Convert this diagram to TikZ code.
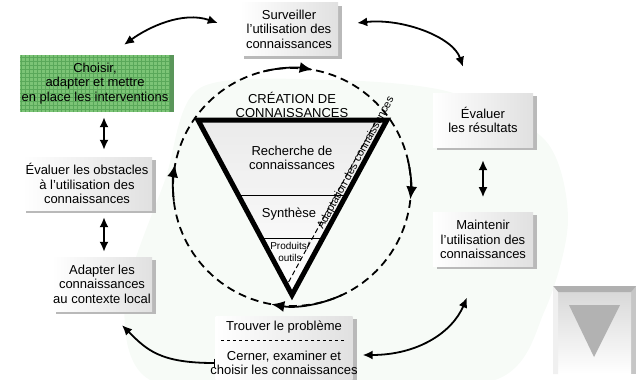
\documentclass[tikz,border=0pt]{standalone}
\usepackage{fontspec}
\setmainfont{Liberation Sans}
\usetikzlibrary{arrows.meta}
\usetikzlibrary{positioning}
\usetikzlibrary{calc}
\usetikzlibrary{shadows}
\definecolor{pickgreen}{RGB}{124,196,118}
\definecolor{pickgrid}{RGB}{90,168,90}
\definecolor{pickedge}{RGB}{90,150,90}
\definecolor{wash}{RGB}{247,251,247}
\tikzset {
  stage base/.style = {
    rectangle,
    align = center,
    inner sep = 1pt,
    minimum width = 100pt,
    minimum height = 54pt,
    font = \fontsize{13}{14.5}\selectfont
  },
  % gray step of the outer cycle
  stage/.style = {
    stage base,
    left color = white,
    right color = gray!24,
    drop shadow = {shadow xshift = 4pt, shadow yshift = -3pt,
      fill = gray!55, opacity = 1}
  },
  % highlighted step (green)
  picked/.style = {
    stage base,
    fill = pickgreen,
    path picture = {
      \draw[pickgrid, line width = .4pt, step = 4pt]
        (path picture bounding box.south west) grid
        (path picture bounding box.north east);
    },
    drop shadow = {shadow xshift = 4pt, shadow yshift = 0pt,
      fill = pickedge, opacity = 1}
  },
  stage text/.style = {
    align = center,
    inner sep = 0pt,
    font = \fontsize{13}{14.5}\selectfont
  },
  small text/.style = {
    align = center,
    inner sep = 0pt,
    font = \fontsize{10}{12}\selectfont
  }
}
\tikzset {
  % double arrows between the steps
  link/.style = {
    line width = 1.8pt,
    >={Latex[length = 10pt, width = 9pt]}
  },
  % dashed knowledge loop
  loop line/.style = {
    line width = 1.8pt,
    dash pattern = on 8pt off 5pt
  },
  loop arr/.style = {
    line width = 1.8pt,
    -{Latex[length = 13pt, width = 11pt]}
  },
  funnel fill/.style = {
    top color = gray!16,
    bottom color = white
  },
  funnel edge/.style = {
    draw = black,
    line width = 5pt,
    line join = miter
  }
}

\begin{document}
\begin{tikzpicture}[x = 1pt, y = -1pt]
  \useasboundingbox (0,0) rectangle (641,380);
  \fill[wash] plot[smooth cycle] coordinates {(200,88) (330,80) (450,92)
    (545,140) (568,220) (545,310) (495,380) (300,395) (150,380) (125,300)
    (165,180)};

  % steps of the action cycle
  \node[stage, minimum width = 98pt, minimum height = 53pt] (surv) at (289,29)
    {Surveiller\\l’utilisation des\\connaissances};
  \node[picked, minimum width = 150pt, minimum height = 57pt] (pick) at (95,83.5)
    {Choisir,\\adapter et mettre\\en place les interventions};
  \node[stage, minimum width = 130pt, minimum height = 53pt] (obs) at (87,183.5)
    {Évaluer les obstacles\\à l’utilisation des\\connaissances};
  \node[stage] (adapt) at (102,284) {Adapter les\\connaissances\\au contexte local};
  \node[stage] (res) at (483,120) {Évaluer\\les résultats};
  \node[stage, below = 65pt of res] (maint) {Maintenir\\l’utilisation des\\connaissances};
  \node[stage, minimum width = 137pt, minimum height = 68pt] (find) at (284,350) {};
  \node[stage text] (problem) at (284,327) {Trouver le problème};
  \node[stage text] (select) at (284,363) {Cerner, examiner et\\choisir les connaissances};
  \draw[dashed, line width = .8pt] ([shift = {(6,-10)}]find.west) -- ([shift = {(-6,-10)}]find.east);

  % knowledge loop
  \node[circle, minimum size = 238pt, inner sep = 0pt] (loop) at (292,187) {};
  \draw[loop line] (loop.center) circle[radius = 119];

  % funnel
  \coordinate (tl) at (198,120);
  \coordinate (tr) at (387,120);
  \coordinate (tip) at (292,295);
  \fill[funnel fill] (tl) -- (tr) -- (tip) -- cycle;
  \draw[line width = .8pt] ($(tl)!0.43!(tip)$) -- ($(tr)!0.43!(tip)$);
  \draw[line width = .8pt] ($(tl)!0.674!(tip)$) -- ($(tr)!0.674!(tip)$);
  \coordinate (adapt-top) at (375,123);
  \coordinate (adapt-end) at (287,285);
  \draw[line width = 1pt, dash pattern = on 5pt off 3pt] (adapt-top) -- (adapt-end);
  \draw[funnel edge] (tl) -- (tr) -- (tip) -- cycle;

  \node[stage text] (creation) at (292,105) {CRÉATION DE\\CONNAISSANCES};
  \node[stage text] (search) at (292,158) {Recherche de\\connaissances};
  \node[stage text] (synth) at (289,214) {Synthèse};
  \node[small text] (products) at (290,252) {Produits/\\outils};
  \node[small text, font = \fontsize{11}{13}\selectfont, rotate = 61.5] (adaptation) at (356,163) {Adaptation des connaissances};

  % arrows on the loop
  \draw[loop arr] ([shift = {(-104:119)}]loop.center) arc[start angle = -104, end angle = -80, radius = 119];
  \draw[loop arr] ([shift = {(-13:119)}]loop.center) arc[start angle = -13, end angle = 6, radius = 119];
  \draw[loop arr] ([shift = {(65:119)}]loop.center) arc[start angle = 65, end angle = 100, radius = 119];
  \draw[loop arr] ([shift = {(173:119)}]loop.center) arc[start angle = 173, end angle = 191, radius = 119];

  % arrows between the steps
  \draw[link, <->] ([shift = {(-22,-6)}]surv.west) .. controls +(-35,-12) and +(25,-18) .. ([shift = {(29,-10)}]pick.north);
  \draw[link, <->] ([shift = {(19,-6)}]surv.east) .. controls +(45,-5) and +(-10,-30) .. ([shift = {(-20,-26)}]res.north);
  \draw[link, <->] ([shift = {(0,13)}]res.south) -- ([shift = {(0,-15)}]maint.north);
  \draw[link, <->] ([shift = {(-16,31)}]maint.south) .. controls +(-15,35) and +(55,0) .. ([shift = {(10,5)}]find.east);
  \draw[link, {Bar[width = 9pt]}->] ([shift = {(0,13)}]find.west) .. controls +(-55,0) and +(25,25) .. ([shift = {(20,14)}]adapt.south);
  \draw[link, <->] ([shift = {(9,5)}]pick.south) -- ([shift = {(17,-7)}]obs.north);
  \draw[link, <->] ([shift = {(17,7)}]obs.south) -- ([shift = {(2,-5)}]adapt.north);

  % corner button
  \fill[gray!45] (553,286) rectangle (636,374);
  \shade[top color = gray!30, bottom color = white] (558,292) rectangle (631,374);
  \fill[gray!62] (553,286) -- (636,286) -- (631,292) -- (558,292) -- cycle;
  \fill[gray!12] (553,286) -- (558,292) -- (558,374) -- (553,374) -- cycle;
  \fill[gray!60] (569,305) -- (620,305) -- (594,357) -- cycle;
\end{tikzpicture}
\end{document}
